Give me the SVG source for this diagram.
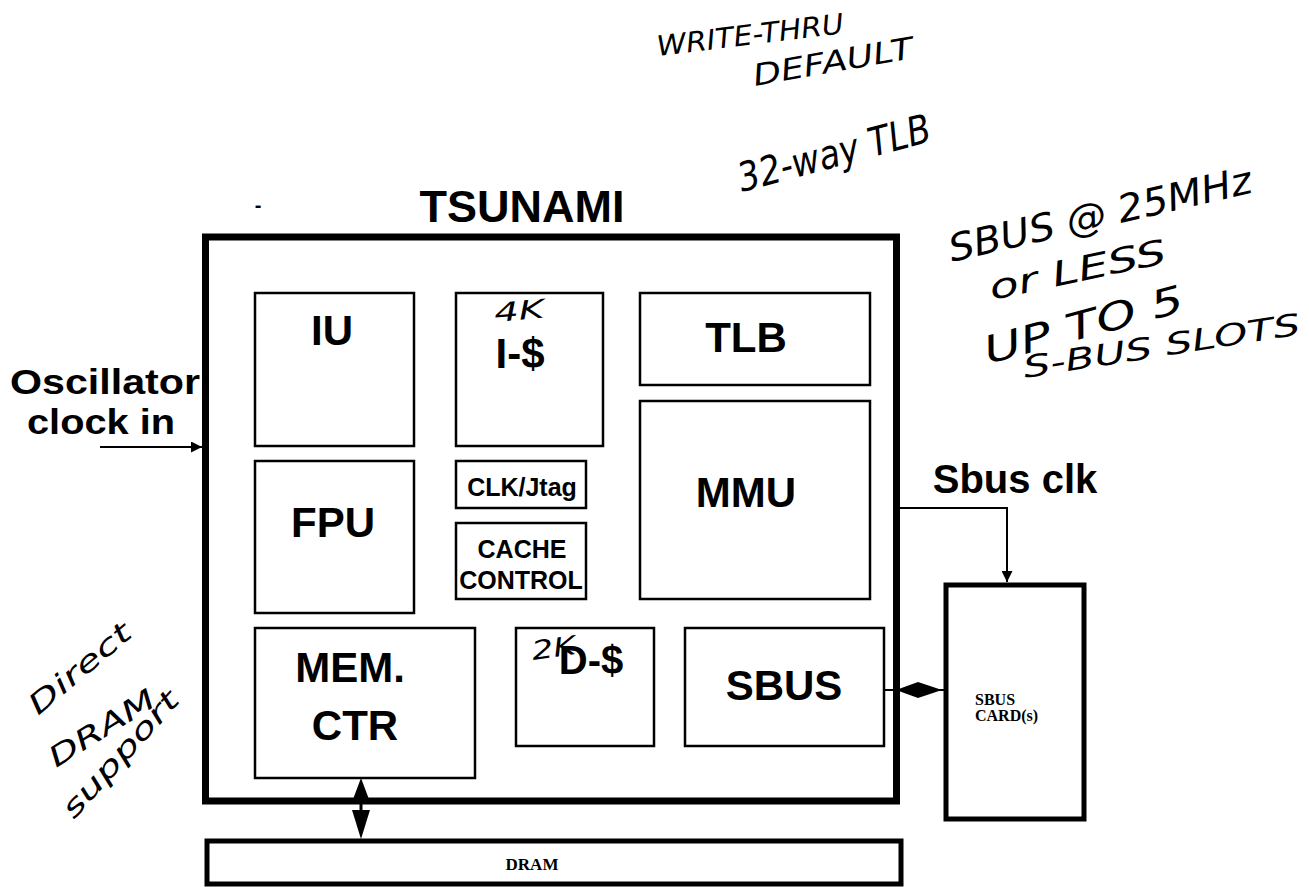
<svg xmlns="http://www.w3.org/2000/svg" width="1309" height="887" viewBox="0 0 1309 887">
<style>
.lbl{font-family:"Liberation Sans",Arial,sans-serif;font-weight:bold;fill:#000;text-anchor:middle}
.ser{font-family:"Liberation Serif","Times New Roman",serif;font-weight:bold;fill:#000}
.hand{font-family:"DejaVu Sans","Noto Sans",sans-serif;font-style:italic;font-weight:normal;fill:#000}
.box{fill:#fff;stroke:#000;stroke-width:2.5}
.line{fill:none;stroke:#000;stroke-width:2}
</style>
<defs>
<marker id="ahs" viewBox="0 0 10 10" refX="10" refY="5" markerWidth="11" markerHeight="11" markerUnits="userSpaceOnUse" orient="auto"><path d="M0,0 L10,5 L0,10 z" fill="#000"/></marker>
</defs>
<rect width="1309" height="887" fill="#fff"/>

<text class="lbl" x="522" y="222" font-size="45">TSUNAMI</text>

<g id="tsunami">
<rect x="205.5" y="237" width="691" height="564" fill="none" stroke="#000" stroke-width="7"/>
</g>

<g id="iu"><rect class="box" x="255" y="293" width="159" height="153"/><text class="lbl" x="332" y="345" font-size="42">IU</text></g>
<g id="icache"><rect class="box" x="456" y="293" width="147" height="153"/><text class="lbl" x="520" y="368" font-size="42">I-$</text></g>
<g id="tlb"><rect class="box" x="640" y="293" width="230" height="92"/><text class="lbl" x="746" y="352" font-size="42">TLB</text></g>
<g id="mmu"><rect class="box" x="640" y="401" width="230" height="198"/><text class="lbl" x="746" y="507" font-size="42">MMU</text></g>
<g id="fpu"><rect class="box" x="255" y="461" width="159" height="152"/><text class="lbl" x="333" y="537" font-size="42">FPU</text></g>
<g id="clkjtag"><rect class="box" x="456" y="461" width="130" height="47"/><text class="lbl" x="522" y="496" font-size="25">CLK/Jtag</text></g>
<g id="cachectl"><rect class="box" x="456" y="523" width="130" height="76"/><text class="lbl" x="522" y="558" font-size="25">CACHE</text><text class="lbl" x="521" y="589" font-size="25">CONTROL</text></g>
<g id="memctr"><rect class="box" x="255" y="628" width="220" height="150"/><text class="lbl" x="350" y="682" font-size="42">MEM.</text><text class="lbl" x="355" y="740" font-size="42">CTR</text></g>
<g id="dcache"><rect class="box" x="516" y="628" width="138" height="118"/><text class="lbl" x="591" y="674" font-size="40">D-$</text></g>
<g id="sbus"><rect class="box" x="685" y="628" width="199" height="118"/><text class="lbl" x="784" y="700" font-size="42">SBUS</text></g>
<g id="sbuscard"><rect x="946" y="585" width="138" height="234" fill="#fff" stroke="#000" stroke-width="5"/><text class="ser" x="975" y="705" font-size="16">SBUS</text><text class="ser" x="975" y="721" font-size="16">CARD(s)</text></g>
<g id="dram"><rect x="207" y="841" width="694" height="43" fill="#fff" stroke="#000" stroke-width="5"/><text class="ser" x="532" y="870" font-size="17" text-anchor="middle">DRAM</text></g>

<g id="osc-label"><text class="lbl" x="105" y="394" font-size="35" textLength="190" lengthAdjust="spacingAndGlyphs">Oscillator</text><text class="lbl" x="101" y="434" font-size="35" textLength="148" lengthAdjust="spacingAndGlyphs">clock in</text></g>
<g id="sbusclk-label"><text class="lbl" x="1015" y="493" font-size="40">Sbus clk</text></g>

<g id="connectors">
<line class="line" x1="100" y1="447" x2="202" y2="447" marker-end="url(#ahs)"/>
<polyline class="line" points="899,508 1007,508 1007,582" marker-end="url(#ahs)"/>
<line class="line" x1="884" y1="690" x2="944" y2="690"/>
<polygon points="896,690 918,682 942,690 918,698" fill="#000"/>
<line x1="361" y1="790" x2="361" y2="828" stroke="#000" stroke-width="3"/>
<polygon points="361,778 352,802 370,802" fill="#000"/>
<polygon points="361,839 352,810 370,810" fill="#000"/>
</g>

<g id="notes">
<text class="hand" font-size="28" transform="translate(658,56) rotate(-7)" textLength="188" lengthAdjust="spacingAndGlyphs">WRITE-THRU</text>
<text class="hand" font-size="30" transform="translate(755,86) rotate(-10)" textLength="162" lengthAdjust="spacingAndGlyphs">DEFAULT</text>
<text class="hand" font-size="40" transform="translate(742,192) rotate(-15)" textLength="198" lengthAdjust="spacingAndGlyphs">32-way TLB</text>
<text class="hand" font-size="38" transform="translate(952,262) rotate(-13)" textLength="310" lengthAdjust="spacingAndGlyphs">SBUS @ 25MHz</text>
<text class="hand" font-size="34" transform="translate(992,300) rotate(-12)" textLength="180" lengthAdjust="spacingAndGlyphs">or LESS</text>
<text class="hand" font-size="38" transform="translate(988,364) rotate(-15)" textLength="205" lengthAdjust="spacingAndGlyphs">UP TO 5</text>
<text class="hand" font-size="30" transform="translate(1025,378) rotate(-9)" textLength="280" lengthAdjust="spacingAndGlyphs">S-BUS SLOTS</text>
<text class="hand" font-size="26" transform="translate(495,322) rotate(-5)" textLength="50" lengthAdjust="spacingAndGlyphs">4K</text>
<text class="hand" font-size="26" transform="translate(533,660) rotate(-8)" textLength="44" lengthAdjust="spacingAndGlyphs">2K</text>
<text class="hand" font-size="28" transform="translate(38,716) rotate(-40)" textLength="125" lengthAdjust="spacingAndGlyphs">Direct</text>
<text class="hand" font-size="28" transform="translate(56,768) rotate(-32)" textLength="120" lengthAdjust="spacingAndGlyphs">DRAM</text>
<text class="hand" font-size="28" transform="translate(74,820) rotate(-48)" textLength="160" lengthAdjust="spacingAndGlyphs">support</text>
</g>
<text class="lbl" x="258" y="212" font-size="20">-</text>
</svg>
